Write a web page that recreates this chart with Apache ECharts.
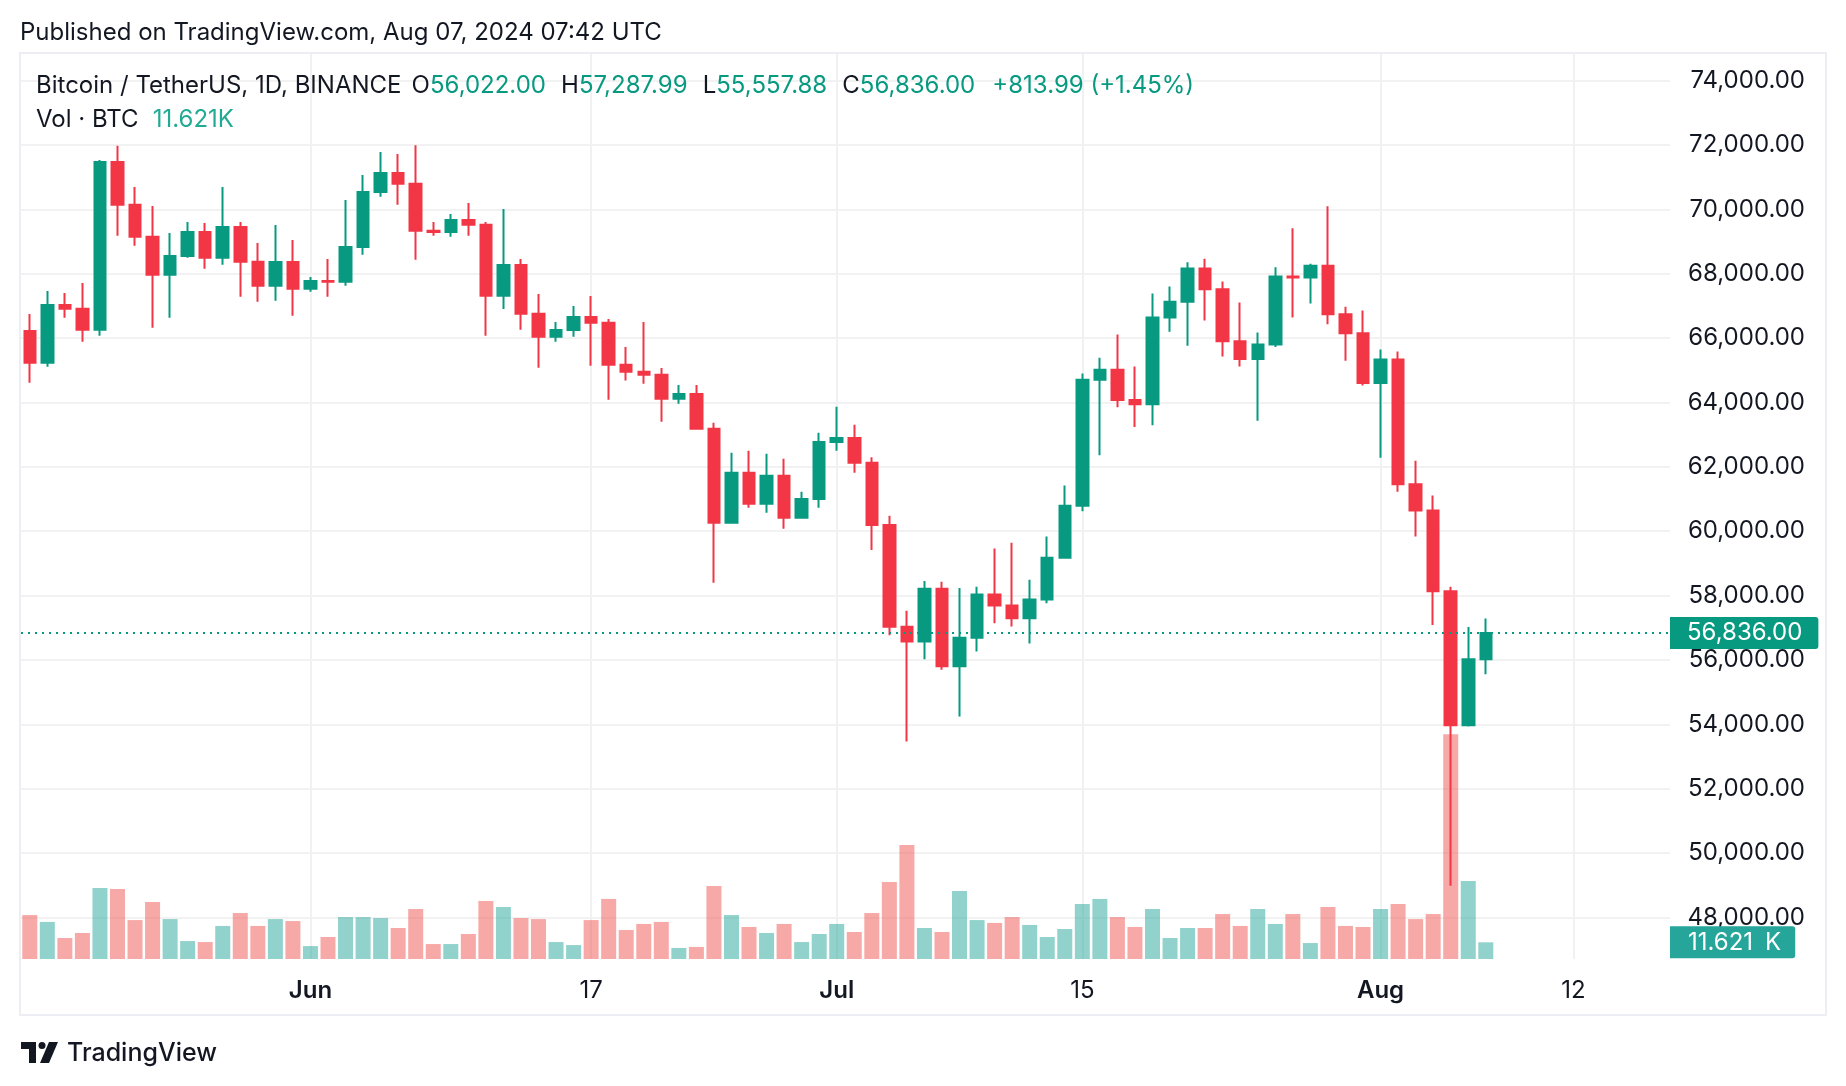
<!DOCTYPE html>
<html><head><meta charset="utf-8">
<script src="https://cdn.jsdelivr.net/npm/echarts@6/dist/echarts.min.js"></script>
<style>html,body{margin:0;padding:0;background:#fff}#c{width:1846px;height:1086px}</style>
</head><body><div id="c"></div>
<script>
// ---------- DATA ----------
const categories = [
 '2024-05-16','2024-05-17','2024-05-18','2024-05-19','2024-05-20','2024-05-21','2024-05-22','2024-05-23','2024-05-24','2024-05-25','2024-05-26','2024-05-27','2024-05-28','2024-05-29','2024-05-30','2024-05-31',
 '2024-06-01','2024-06-02','2024-06-03','2024-06-04','2024-06-05','2024-06-06','2024-06-07','2024-06-08','2024-06-09','2024-06-10','2024-06-11','2024-06-12','2024-06-13','2024-06-14','2024-06-15',
 '2024-06-16','2024-06-17','2024-06-18','2024-06-19','2024-06-20','2024-06-21','2024-06-22','2024-06-23','2024-06-24','2024-06-25','2024-06-26','2024-06-27','2024-06-28','2024-06-29','2024-06-30',
 '2024-07-01','2024-07-02','2024-07-03','2024-07-04','2024-07-05','2024-07-06','2024-07-07','2024-07-08','2024-07-09','2024-07-10','2024-07-11','2024-07-12','2024-07-13','2024-07-14','2024-07-15',
 '2024-07-16','2024-07-17','2024-07-18','2024-07-19','2024-07-20','2024-07-21','2024-07-22','2024-07-23','2024-07-24','2024-07-25','2024-07-26','2024-07-27','2024-07-28','2024-07-29','2024-07-30','2024-07-31',
 '2024-08-01','2024-08-02','2024-08-03','2024-08-04','2024-08-05','2024-08-06','2024-08-07','2024-08-08','2024-08-09','2024-08-10','2024-08-11','2024-08-12','2024-08-13','2024-08-14','2024-08-15','2024-08-16','2024-08-17'
];
const opens = [66221, 65237, 67029, 66915, 66262, 71472, 70146, 69152, 67971, 68551,
 69297, 68499, 69452, 68375, 67629, 68365, 67536, 67774, 67750, 68831,
 70540, 71130, 70799, 69338, 69300, 69670, 69525, 67319, 68271, 66759,
 66045, 66252, 66653, 66480, 65175, 64957, 64864, 64118, 64263, 63186,
 60265, 61819, 60852, 61726, 60421, 61001, 62772, 62896, 62130, 60195,
 57030, 56574, 58211, 55801, 56690, 58030, 57695, 57296, 57876, 59177,
 60788, 64706, 65015, 64074, 63946, 66639, 67129, 68160, 67515, 65904,
 65350, 65801, 67915, 67880, 68250, 66742, 66149, 64603, 65337, 61458,
 60647, 58134, 53971, 56022.00];
const closes = [65237, 67029, 66915, 66262, 71472, 70146, 69152, 67971, 68551, 69297,
 68499, 69452, 68375, 67629, 68365, 67536, 67774, 67750, 68831, 70540,
 71130, 70799, 69338, 69300, 69670, 69525, 67319, 68271, 66759, 66045,
 66252, 66653, 66480, 65175, 64957, 64864, 64118, 64263, 63186, 60265,
 61819, 60852, 61726, 60421, 61001, 62772, 62896, 62130, 60195, 57030,
 56574, 58211, 55801, 56690, 58030, 57695, 57296, 57876, 59177, 60788,
 64706, 65015, 64074, 63946, 66639, 67129, 68160, 67515, 65904, 65350,
 65801, 67915, 67880, 68250, 66742, 66149, 64603, 65337, 61458, 60647,
 58134, 53971, 56022.01, 56836.00];
const lows = [64615, 65113, 66635, 65889, 66076, 69183, 68872, 66324, 66635, 68500,
 68158, 68282, 67288, 67132, 67163, 66697, 67443, 67288, 67629, 68593,
 70395, 70146, 68437, 69183, 69152, 69183, 66076, 66904, 66262, 65081,
 65889, 66045, 65144, 64087, 64680, 64584, 63404, 63963, 63170, 58401,
 60240, 60728, 60573, 60079, 60390, 60732, 62503, 61819, 59418, 56768,
 53468, 56020, 55699, 54242, 56265, 57141, 57038, 56510, 57760, 59150,
 60621, 62361, 63855, 63237, 63289, 66201, 65763, 66549, 65428, 65118,
 63430, 65724, 66639, 67077, 66433, 65299, 64526, 62283, 61227, 59835,
 57090, 48987, 53933, 55557.88];
const highs = [66749, 67464, 67401, 67712, 71534, 71980, 70695, 70105, 69266, 69608,
 69576, 70695, 69608, 68955, 69514, 69048, 67899, 68458, 70291, 71068,
 71783, 71720, 71990, 69608, 69856, 70198, 69608, 70011, 68458, 67370,
 66500, 66998, 67308, 66594, 65724, 66500, 65071, 64543, 64543, 63373,
 62441, 62503, 62410, 62254, 61229, 63062, 63870, 63310, 62300, 60480,
 57528, 58456, 58430, 58236, 58276, 59461, 59641, 58494, 59835, 61420,
 64899, 65389, 66111, 65118, 67386, 67606, 68353, 68469, 67760, 67103,
 66175, 68198, 69410, 68314, 70093, 66974, 66858, 65647, 65582, 62193,
 61111, 58275, 57025, 57287.99];
// volume in thousands of BTC
const volumes = [30.6, 25.8, 14.6, 18.1, 49.4, 48.7, 27.1, 39.7, 27.8, 12.5,
 11.8, 23.0, 32.0, 23.0, 27.8, 26.4, 9.0, 15.3, 29.2, 29.2,
 28.5, 21.6, 34.8, 10.4, 10.4, 17.4, 40.4, 36.2, 28.5, 27.8,
 11.8, 9.7, 27.1, 41.8, 20.2, 24.4, 25.8, 7.7, 8.4, 50.8,
 30.6, 22.3, 18.1, 24.4, 11.8, 17.4, 24.4, 18.8, 32.0, 53.6,
 79.3, 21.6, 18.8, 47.3, 27.1, 25.1, 29.2, 23.7, 15.3, 20.9,
 38.3, 41.8, 29.2, 22.3, 34.8, 14.6, 21.6, 21.6, 31.3, 23.0,
 34.8, 24.4, 31.3, 11.1, 36.2, 23.0, 22.3, 34.8, 38.3, 27.8,
 31.3, 156.4, 54.3, 11.621];
const xTickDates = ['2024-06-01','2024-06-17','2024-07-01','2024-07-15','2024-08-01','2024-08-12'];
const xTickLabels = ['Jun','17','Jul','15','Aug','12'];
const xTickIsMonth = [true,false,true,false,true,false];

// ---------- STYLE ----------
const UP = '#089981', DOWN = '#F23645';
const VUP = 'rgba(38,166,154,0.5)', VDOWN = 'rgba(239,83,80,0.5)';
const TXT = '#131722';
const FONT = 'Inter, Roboto, sans-serif';
const FS = 24;

const fmt = v => v.toLocaleString('en-US', {minimumFractionDigits: 2, maximumFractionDigits: 2});
const n = closes.length, last = n - 1;
const candleData = opens.map((o, i) => [o, closes[i], lows[i], highs[i]]);
const volData = volumes.map((v, i) => ({value: v, itemStyle: {color: closes[i] >= opens[i] ? VUP : VDOWN}}));
const chg = closes[last] - closes[last - 1];
const pct = chg / closes[last - 1] * 100;
const chgText = (chg >= 0 ? '+' : '') + fmt(chg) + ' (' + (chg >= 0 ? '+' : '') + pct.toFixed(2) + '%)';
const volText = volumes[last].toFixed(3) + 'K';
const volScaleText = volumes[last].toFixed(3) + '\u2002K';

const showTick = (idx, val) => xTickDates.indexOf(val) >= 0;
const richN = {fontFamily: FONT, fontSize: FS, fontWeight: 400, color: TXT, lineHeight: 28};
const richK = {fontFamily: FONT, fontSize: FS, fontWeight: 400, color: TXT, lineHeight: 28, padding: [0, 0, 0, 5]};
const richG = {fontFamily: FONT, fontSize: FS, fontWeight: 400, color: UP, lineHeight: 28};
const richC = {fontFamily: FONT, fontSize: FS, fontWeight: 400, color: UP, lineHeight: 28, padding: [0, 0, 0, 7]};

const chart = echarts.init(document.getElementById('c'), null, {renderer: 'canvas'});
chart.setOption({
  backgroundColor: '#ffffff',
  animation: false,
  textStyle: {fontFamily: FONT},
  title: [
    {left: 20, top: 19, padding: 0, text: 'Published on TradingView.com, Aug 07, 2024 07:42 UTC',
     textStyle: {fontFamily: FONT, fontSize: FS, fontWeight: 400, color: TXT, lineHeight: 28}},
    {left: 36, top: 72, padding: 0,
     text: '{n|Bitcoin / TetherUS, 1D, BINANCE}  {n|O}{g|' + fmt(opens[last]) + '}  {k|H}{g|' + fmt(highs[last]) +
           '}  {k|L}{g|' + fmt(lows[last]) + '}  {k|C}{g|' + fmt(closes[last]) + '}  {c|' + chgText + '}',
     textStyle: {fontWeight: 400, rich: {n: richN, k: richK, g: richG, c: richC}}},
    {left: 36, top: 106, padding: 0,
     text: '{n|Vol · BTC}  {v|' + volText + '}',
     textStyle: {fontWeight: 400, rich: {n: richN,
       v: {fontFamily: FONT, fontSize: FS, fontWeight: 400, color: '#22ab94', lineHeight: 28, padding: [0, 0, 0, 4]}}}},
    {left: 67, top: 1039, padding: 0, text: 'TradingView',
     textStyle: {fontFamily: FONT, fontSize: 25, fontWeight: 500, color: TXT, lineHeight: 28}}
  ],
  graphic: [
    {type: 'rect', z: -1, silent: true, shape: {x: 20, y: 53, width: 1806, height: 962},
     style: {fill: 'none', stroke: '#eceef3', lineWidth: 2}},
    {type: 'group', left: 21, top: 1042, children: [
      {type: 'rect', shape: {x: 0, y: 0, width: 15, height: 7}, style: {fill: TXT}},
      {type: 'rect', shape: {x: 8, y: 0, width: 7, height: 21}, style: {fill: TXT}},
      {type: 'circle', shape: {cx: 21, cy: 3.5, r: 3.5}, style: {fill: TXT}},
      {type: 'polygon', shape: {points: [[28, 0], [37, 0], [28, 21], [19, 21]]}, style: {fill: TXT}}
    ]}
  ],
  grid: {left: 21, top: 54, width: 1649, height: 905, containLabel: false},
  xAxis: {
    type: 'category', data: categories, boundaryGap: true,
    axisLine: {show: false}, axisTick: {show: false},
    axisLabel: {
      interval: showTick, margin: 20,
      formatter: (val) => {
        const k = xTickDates.indexOf(val);
        if (k < 0) return '';
        return xTickIsMonth[k] ? '{b|' + xTickLabels[k] + '}' : '{r|' + xTickLabels[k] + '}';
      },
      rich: {
        b: {fontFamily: FONT, fontSize: FS, fontWeight: 600, color: TXT},
        r: {fontFamily: FONT, fontSize: FS, fontWeight: 400, color: TXT}
      }
    },
    splitLine: {show: true, interval: showTick, alignWithLabel: true, lineStyle: {color: '#f0f1f3', width: 2}}
  },
  yAxis: [
    {
      type: 'value', position: 'right', min: 46709, max: 74827, splitNumber: 14,
      axisLine: {show: false}, axisTick: {show: false},
      axisLabel: {showMinLabel: false, showMaxLabel: false, align: 'right', margin: 135,
        fontFamily: FONT, fontSize: FS, color: TXT, formatter: v => fmt(v)},
      splitLine: {show: true, showMinLine: false, showMaxLine: false, lineStyle: {color: '#f2f2f2', width: 2}}
    },
    {type: 'value', min: 0, max: 630, show: false, splitLine: {show: false}}
  ],
  series: [
    {
      type: 'bar', name: 'Volume', xAxisIndex: 0, yAxisIndex: 1, data: volData,
      barWidth: 15, z: 1, silent: true,
      markLine: {
        silent: true, symbol: ['none', 'none'], animation: false,
        lineStyle: {color: 'rgba(0,0,0,0)', width: 0},
        data: [{yAxis: volumes[last]}],
        label: {show: true, position: 'end', distance: 0, formatter: volScaleText,
          backgroundColor: '#26a69a', color: '#ffffff', fontFamily: FONT, fontSize: FS,
          lineHeight: 24, padding: [4, 14, 4, 18], borderRadius: [0, 3, 3, 0]}
      }
    },
    {
      type: 'candlestick', name: 'BTCUSDT', xAxisIndex: 0, yAxisIndex: 0, data: candleData,
      barWidth: 12, z: 3,
      itemStyle: {color: UP, color0: DOWN, borderColor: UP, borderColor0: DOWN, borderWidth: 2},
      markLine: {
        silent: true, symbol: ['none', 'none'], animation: false,
        lineStyle: {color: UP, width: 2, type: [2, 5]},
        data: [{yAxis: closes[last]}],
        label: {show: true, position: 'end', distance: 0, formatter: fmt(closes[last]),
          backgroundColor: UP, color: '#ffffff', fontFamily: FONT, fontSize: FS,
          lineHeight: 24, padding: [4, 16, 4, 17], borderRadius: [0, 3, 3, 0]}
      }
    }
  ]
});
</script></body></html>
